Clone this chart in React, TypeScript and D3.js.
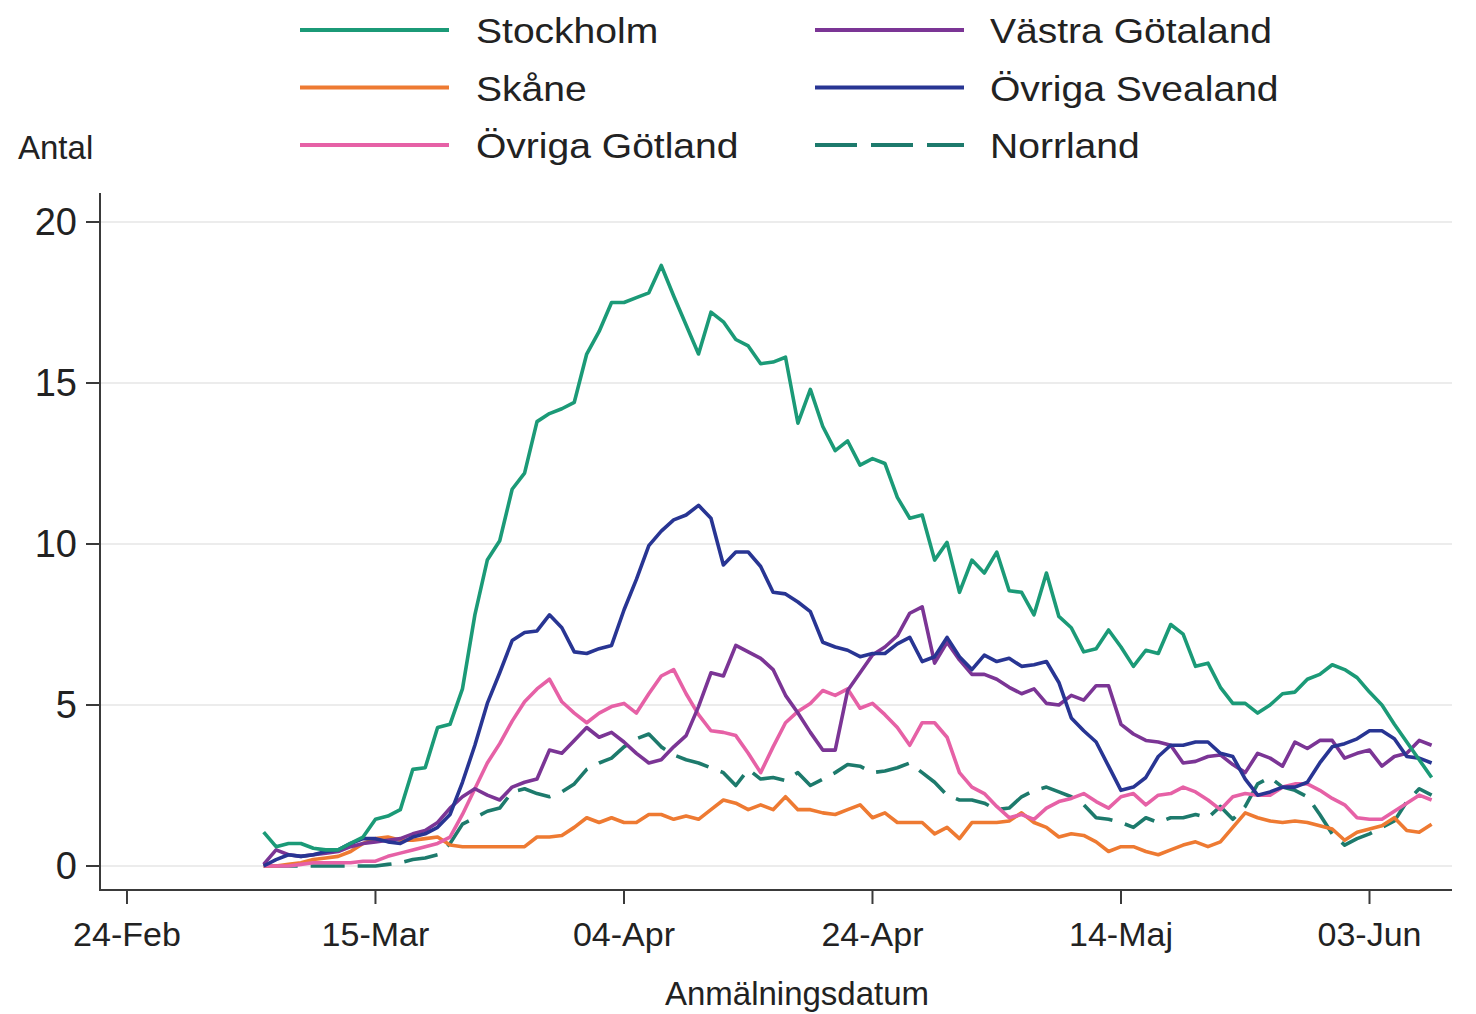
import React from "react";
import * as d3 from "d3";

// Day index counted from 24-Feb-2020; series start on day 11 (06-Mar)
const startDay = 11;
const xTickDays = [0, 20, 40, 60, 80, 100];
const xTickLabels = ["24-Feb", "15-Mar", "04-Apr", "24-Apr", "14-Maj", "03-Jun"];
const yTicks = [0, 5, 10, 15, 20];

const stockholm = [1.05, 0.6, 0.7, 0.7, 0.55, 0.5, 0.5, 0.7, 0.9, 1.45, 1.55, 1.75, 3.0, 3.05, 4.3, 4.4, 5.5, 7.8, 9.5, 10.1,
  11.7, 12.2, 13.8, 14.05, 14.2, 14.4, 15.9, 16.6, 17.5, 17.5, 17.65, 17.8, 18.65, 17.7, 16.8, 15.9, 17.2, 16.9, 16.35, 16.15,
  15.6, 15.65, 15.8, 13.75, 14.8, 13.65, 12.9, 13.2, 12.45, 12.65, 12.5, 11.45, 10.8, 10.9, 9.5, 10.05, 8.5, 9.5, 9.1, 9.75,
  8.55, 8.5, 7.8, 9.1, 7.75, 7.4, 6.65, 6.75, 7.33, 6.8, 6.2, 6.7, 6.6, 7.5, 7.2, 6.2, 6.3, 5.55, 5.05, 5.05,
  4.75, 5.0, 5.35, 5.4, 5.8, 5.95, 6.25, 6.1, 5.85, 5.4, 5.0, 4.4, 3.85, 3.3, 2.75];
const skane = [0.0, 0.0, 0.05, 0.1, 0.2, 0.25, 0.3, 0.45, 0.7, 0.85, 0.9, 0.8, 0.8, 0.85, 0.9, 0.65, 0.6, 0.6, 0.6, 0.6,
  0.6, 0.6, 0.9, 0.9, 0.95, 1.2, 1.5, 1.35, 1.5, 1.35, 1.35, 1.6, 1.6, 1.45, 1.55, 1.45, 1.75, 2.05, 1.95, 1.75,
  1.9, 1.75, 2.15, 1.75, 1.75, 1.65, 1.6, 1.75, 1.9, 1.5, 1.65, 1.35, 1.35, 1.35, 1.0, 1.2, 0.85, 1.35, 1.35, 1.35,
  1.4, 1.65, 1.35, 1.2, 0.9, 1.0, 0.95, 0.75, 0.45, 0.6, 0.6, 0.45, 0.35, 0.5, 0.65, 0.75, 0.6, 0.75, 1.2, 1.65,
  1.5, 1.4, 1.35, 1.4, 1.35, 1.25, 1.15, 0.8, 1.05, 1.15, 1.25, 1.5, 1.1, 1.05, 1.3];
const ovrigaGotland = [0.0, 0.0, 0.0, 0.05, 0.1, 0.1, 0.1, 0.1, 0.15, 0.15, 0.3, 0.4, 0.5, 0.6, 0.7, 0.9, 1.6, 2.4, 3.2, 3.8,
  4.5, 5.1, 5.5, 5.8, 5.1, 4.75, 4.45, 4.75, 4.95, 5.05, 4.75, 5.35, 5.9, 6.1, 5.35, 4.7, 4.2, 4.15, 4.05, 3.5,
  2.9, 3.7, 4.45, 4.8, 5.05, 5.45, 5.3, 5.5, 4.9, 5.05, 4.7, 4.3, 3.75, 4.45, 4.45, 4.0, 2.9, 2.45, 2.25, 1.85,
  1.5, 1.6, 1.45, 1.8, 2.0, 2.1, 2.25, 2.0, 1.8, 2.15, 2.25, 1.9, 2.2, 2.25, 2.45, 2.3, 2.05, 1.75, 2.15, 2.25,
  2.2, 2.2, 2.45, 2.55, 2.55, 2.35, 2.1, 1.9, 1.5, 1.45, 1.45, 1.7, 1.95, 2.2, 2.05];
const vastraGotaland = [0.05, 0.5, 0.35, 0.3, 0.35, 0.4, 0.45, 0.6, 0.7, 0.75, 0.8, 0.85, 1.0, 1.1, 1.35, 1.8, 2.15, 2.4, 2.2, 2.05,
  2.45, 2.6, 2.7, 3.6, 3.5, 3.9, 4.3, 4.0, 4.15, 3.85, 3.5, 3.2, 3.3, 3.7, 4.05, 4.95, 6.0, 5.9, 6.85, 6.65,
  6.45, 6.1, 5.3, 4.75, 4.15, 3.6, 3.6, 5.45, 6.0, 6.55, 6.8, 7.15, 7.85, 8.05, 6.3, 6.95, 6.4, 5.95, 5.95, 5.8,
  5.55, 5.35, 5.5, 5.05, 5.0, 5.3, 5.15, 5.6, 5.6, 4.4, 4.1, 3.9, 3.85, 3.75, 3.2, 3.25, 3.4, 3.45, 3.15, 2.9,
  3.5, 3.35, 3.1, 3.85, 3.65, 3.9, 3.9, 3.35, 3.5, 3.6, 3.1, 3.4, 3.5, 3.9, 3.75];
const ovrigaSvealand = [0.0, 0.2, 0.35, 0.3, 0.35, 0.45, 0.5, 0.7, 0.85, 0.85, 0.75, 0.7, 0.9, 1.0, 1.2, 1.6, 2.6, 3.75, 5.05, 6.0,
  7.0, 7.25, 7.3, 7.8, 7.4, 6.65, 6.6, 6.75, 6.85, 7.95, 8.9, 9.95, 10.4, 10.75, 10.9, 11.2, 10.8, 9.35, 9.75, 9.75,
  9.3, 8.5, 8.45, 8.2, 7.9, 6.95, 6.8, 6.7, 6.5, 6.6, 6.6, 6.9, 7.1, 6.35, 6.5, 7.1, 6.5, 6.1, 6.55, 6.35,
  6.45, 6.2, 6.25, 6.35, 5.7, 4.6, 4.2, 3.85, 3.1, 2.35, 2.45, 2.75, 3.4, 3.75, 3.75, 3.85, 3.85, 3.5, 3.4, 2.7,
  2.2, 2.3, 2.45, 2.45, 2.6, 3.2, 3.7, 3.8, 3.95, 4.2, 4.2, 3.95, 3.4, 3.35, 3.2];
const norrland = [0.0, 0.0, 0.0, 0.0, 0.0, 0.0, 0.0, 0.0, 0.0, 0.0, 0.05, 0.1, 0.2, 0.25, 0.35, 0.7, 1.3, 1.5, 1.7, 1.8,
  2.3, 2.4, 2.25, 2.15, 2.3, 2.55, 3.0, 3.2, 3.35, 3.7, 3.95, 4.1, 3.7, 3.45, 3.3, 3.2, 3.05, 2.9, 2.5, 3.0,
  2.7, 2.75, 2.65, 2.9, 2.5, 2.7, 2.9, 3.15, 3.1, 2.9, 2.95, 3.05, 3.2, 2.9, 2.6, 2.2, 2.05, 2.05, 1.95, 1.75,
  1.8, 2.15, 2.35, 2.45, 2.3, 2.15, 1.9, 1.5, 1.45, 1.35, 1.2, 1.5, 1.35, 1.5, 1.5, 1.6, 1.5, 1.85, 1.45, 1.85,
  2.55, 2.75, 2.45, 2.35, 2.15, 1.6, 1.0, 0.65, 0.85, 1.0, 1.2, 1.4, 2.0, 2.4, 2.2];

const seriesNames = ["Stockholm", "Skåne", "Övriga Götland", "Västra Götaland", "Övriga Svealand", "Norrland"];
const seriesColors = ["#1b9a77", "#ee7a32", "#e661a6", "#7b3595", "#283593", "#1d7a6c"];
const seriesValues = [stockholm, skane, ovrigaGotland, vastraGotaland, ovrigaSvealand, norrland];
const seriesDashed = [false, false, false, false, false, true];

const W = 1476;
const H = 1014;

export default function App() {
  const x = d3.scaleLinear().domain([-2.09, 106.64]).range([101, 1452]);
  const y = d3.scaleLinear().domain([-0.745, 20.9]).range([890, 193]);
  const line = d3
    .line<number>()
    .x((_, i) => x(startDay + i))
    .y((v) => y(v));

  const textColor = "#222";
  const font = "'Liberation Sans', Arial, sans-serif";
  const order = [5, 1, 2, 3, 4, 0];

  return (
    <svg
      width={W}
      height={H}
      style={{ position: "absolute", left: 0, top: 0, background: "#fff" }}
      fontFamily={font}
    >
      <rect x={0} y={0} width={W} height={H} fill="#fff" />
      {yTicks.map((t) => (
        <line key={"g" + t} x1={101} x2={1452} y1={y(t)} y2={y(t)} stroke="#ececec" strokeWidth={2} />
      ))}
      {order.map((si) => (
        <path
          key={seriesNames[si]}
          d={line(seriesValues[si]) || ""}
          fill="none"
          stroke={seriesColors[si]}
          strokeWidth={3.6}
          strokeLinejoin="round"
          strokeDasharray={seriesDashed[si] ? "34 13" : undefined}
        />
      ))}
      <line x1={100} x2={100} y1={193} y2={891} stroke="#3a3a3a" strokeWidth={2} />
      <line x1={99} x2={1452} y1={890} y2={890} stroke="#3a3a3a" strokeWidth={2} />
      {yTicks.map((t) => (
        <g key={"yt" + t}>
          <line x1={86} x2={100} y1={y(t)} y2={y(t)} stroke="#3a3a3a" strokeWidth={2} />
          <text x={77} y={y(t)} dy="0.35em" textAnchor="end" fontSize={38} fill={textColor}>
            {t}
          </text>
        </g>
      ))}
      {xTickDays.map((d, i) => (
        <g key={"xt" + d}>
          <line x1={x(d)} x2={x(d)} y1={890} y2={904} stroke="#3a3a3a" strokeWidth={2} />
          <text x={x(d)} y={946} textAnchor="middle" fontSize={34} fill={textColor}>
            {xTickLabels[i]}
          </text>
        </g>
      ))}
      <text x={797} y={1005} textAnchor="middle" fontSize={33} fill={textColor}>
        Anmälningsdatum
      </text>
      <text x={18} y={159} fontSize={33} fill={textColor}>
        Antal
      </text>
      {seriesNames.map((name, i) => {
        const col = i < 3 ? 0 : 1;
        const row = i % 3;
        const cy = 30 + row * 57.5;
        const lx = col === 0 ? 300 : 815;
        const tx = col === 0 ? 476 : 990;
        return (
          <g key={"lg" + name}>
            <line
              x1={lx}
              x2={lx + 149}
              y1={cy}
              y2={cy}
              stroke={seriesColors[i]}
              strokeWidth={3.8}
              strokeDasharray={seriesDashed[i] ? "42 14" : undefined}
            />
            <g transform={`translate(${tx},${cy + 13}) scale(1.1,1)`}>
              <text x={0} y={0} fontSize={35.5} fill={textColor}>
                {name}
              </text>
            </g>
          </g>
        );
      })}
    </svg>
  );
}
